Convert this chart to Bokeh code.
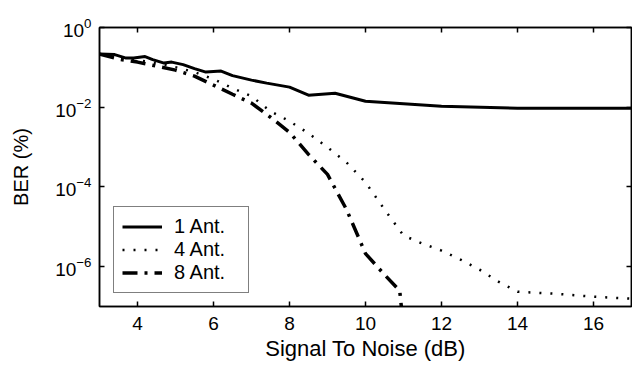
from bokeh.plotting import figure
from bokeh.models import (FixedTicker, LinearAxis, LogAxis, Legend, LegendItem,
                          CustomJSTickFormatter)
from bokeh.embed import file_html
from bokeh.resources import INLINE

# ---- data ----
snr_1 = [3.0, 3.4, 3.7, 3.9, 4.2, 4.4, 4.7, 4.9, 5.2, 5.5, 5.8, 6.2, 6.5, 7.0,
         7.4, 8.0, 8.5, 9.2, 10.0, 11.0, 12.0, 14.0, 17.0]
ber_1 = [0.2153, 0.2094, 0.1709, 0.1709, 0.1864, 0.1567, 0.1279, 0.1355, 0.1173,
         0.0931, 0.0760, 0.0805, 0.0620, 0.0478, 0.0402, 0.0319, 0.0200, 0.0225,
         0.01416, 0.01225, 0.01060, 0.00944, 0.00944]

snr_4 = [3.0, 3.5, 4.0, 4.5, 5.0, 5.5, 6.0, 6.5, 7.0, 7.5, 8.0, 8.5, 9.0, 9.5,
         10.0, 10.5, 11.0, 11.5, 12.0, 12.5, 13.0, 13.5, 14.0, 15.0, 16.0, 17.0]
ber_4 = [0.2153, 0.1811, 0.1521, 0.1279, 0.1014, 0.0760, 0.0506, 0.0301, 0.0189,
         7.92e-3, 4.45e-3, 2.22e-3, 9.86e-4, 4.13e-4, 1.30e-4, 2.72e-5, 6.03e-6,
         3.79e-6, 2.53e-6, 1.50e-6, 8.41e-7, 4.20e-7, 2.35e-7, 2.09e-7, 1.76e-7,
         1.57e-7]

snr_8 = [3.0, 3.5, 4.0, 4.5, 5.0, 5.5, 6.0, 6.5, 7.0, 7.5, 8.0, 8.5, 9.0, 9.5,
         10.0, 10.5, 10.9, 11.0]
ber_8 = [0.2153, 0.1614, 0.1355, 0.1075, 0.0853, 0.0603, 0.0357, 0.0212, 0.01262,
         5.60e-3, 2.35e-3, 6.57e-4, 2.06e-4, 2.72e-5, 2.12e-6, 6.29e-7, 2.49e-7,
         3e-8]

labels = ["1 Ant.", "4 Ant.", "8 Ant."]
x_ticks = [4, 6, 8, 10, 12, 14, 16]
y_ticks = [1e-6, 1e-4, 1e-2, 1e0]

FONT = "Liberation Sans"

p = figure(width=632, height=365, x_range=(3, 17), y_range=(1e-7, 1),
           y_axis_type="log", output_backend="svg", toolbar_location=None,
           min_border_left=99, min_border_right=1, min_border_top=27,
           min_border_bottom=59)
p.xgrid.visible = False
p.ygrid.visible = False
p.outline_line_color = "black"
p.outline_line_width = 1.5
p.background_fill_color = "white"
p.border_fill_color = "white"

r1 = p.line(snr_1, ber_1, line_color="black", line_width=3)
r4 = p.line(snr_4, ber_4, line_color="black", line_width=2.5, line_dash="2 9")
r8 = p.line(snr_8, ber_8, line_color="black", line_width=3.5, line_dash="15 7 3 7")

def style(ax):
    ax.axis_line_color = "black"
    ax.axis_line_width = 1.5
    ax.major_tick_line_color = "black"
    ax.major_tick_line_width = 1.5
    ax.major_tick_in = 5
    ax.major_tick_out = 0
    ax.minor_tick_line_color = None
    ax.major_label_text_font = FONT
    ax.major_label_text_color = "black"
    ax.major_label_text_font_size = "19px"

xa = p.xaxis[0]
xa.ticker = FixedTicker(ticks=x_ticks, minor_ticks=[])
style(xa)
xa.major_label_standoff = 10
xa.axis_label = "Signal To Noise (dB)"
xa.axis_label_text_font = FONT
xa.axis_label_text_font_size = "22px"
xa.axis_label_text_font_style = "normal"
xa.axis_label_text_color = "black"
xa.axis_label_standoff = 3

ya = p.yaxis[0]
ya.ticker = FixedTicker(ticks=y_ticks, minor_ticks=[])
style(ya)
ya.major_label_standoff = 8
ya.axis_label = "BER (%)"
ya.axis_label_text_font = FONT
ya.axis_label_text_font_size = "20px"
ya.axis_label_text_font_style = "normal"
ya.axis_label_text_color = "black"
ya.axis_label_standoff = 20

top = LinearAxis(ticker=FixedTicker(ticks=x_ticks, minor_ticks=[]),
                 formatter=CustomJSTickFormatter(code="return '';"))
style(top)
top.major_label_text_font_size = "2px"
top.major_label_standoff = 0
p.add_layout(top, "above")
right = LogAxis(ticker=FixedTicker(ticks=y_ticks, minor_ticks=[]),
                formatter=CustomJSTickFormatter(code="return '';"))
style(right)
right.major_label_text_font_size = "2px"
right.major_label_standoff = 0
p.add_layout(right, "right")

legend = Legend(items=[LegendItem(label=labels[0], renderers=[r1]),
                       LegendItem(label=labels[1], renderers=[r4]),
                       LegendItem(label=labels[2], renderers=[r8])],
                location=(14, 13), padding=8, spacing=0, margin=0,
                glyph_width=40, glyph_height=21, label_standoff=12,
                label_text_font=FONT, label_text_font_size="20px",
                label_text_color="black",
                label_height=21, label_width=66,
                border_line_color="black", border_line_width=1.5,
                background_fill_color="white", background_fill_alpha=1)
p.add_layout(legend, "center")

open("out.html", "w").write(file_html(p, INLINE))
